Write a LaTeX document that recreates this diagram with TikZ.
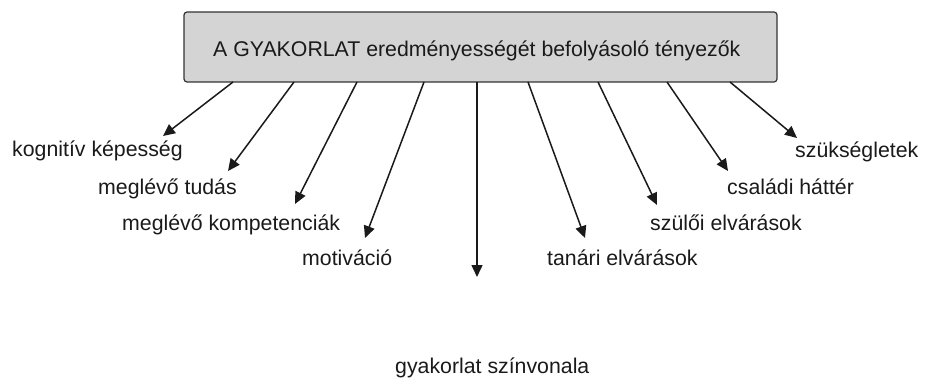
\documentclass[tikz,border=0pt]{standalone}
\usepackage{fontspec}
\setmainfont{Liberation Sans}
\usetikzlibrary{arrows.meta}
\definecolor{boxfill}{HTML}{D4D4D4}
\definecolor{boxline}{HTML}{333333}
\definecolor{ink}{HTML}{1A1A1A}
\tikzset{
  every node/.style={font=\fontsize{21.3}{25}\selectfont, text=ink},
  titlebox/.style={draw=boxline, line width=1.2pt, fill=boxfill, rounded corners=3pt,
    minimum width=593pt, minimum height=70pt, inner sep=0pt},
  lbl/.style={anchor=base west, inner sep=0pt},
  factor/.style={draw=ink, line width=1.5pt, -{Triangle[length=12pt,width=11pt]}}
}
\begin{document}
\begin{tikzpicture}[x=1pt,y=-1pt]
\useasboundingbox (0,0) rectangle (925,379);
\node[titlebox] (box) at (480.5,47) {};
\node[lbl] (title) at (213,57) {A GYAKORLAT eredményességét befolyásoló tényezők};
% start points on box bottom
\coordinate (s1) at (233,82);
\coordinate (s2) at (294,82);
\coordinate (s3) at (357,82);
\coordinate (s4) at (424,82);
\coordinate (s5) at (477,82);
\coordinate (s6) at (528,82);
\coordinate (s7) at (598,82);
\coordinate (s8) at (667,82);
\coordinate (s9) at (730,82);
% tips
\coordinate (t1) at (163,136);
\coordinate (t2) at (228,171);
\coordinate (t3) at (295,204);
\coordinate (t4) at (365,238);
\coordinate (t5) at (477,277);
\coordinate (t6) at (585,238);
\coordinate (t7) at (657,205);
\coordinate (t8) at (728,171);
\coordinate (t9) at (797,138);
% labels
\node[lbl] (l1) at (12,157) {kognitív képesség};
\node[lbl] (l2) at (98,195) {meglévő tudás};
\node[lbl] (l3) at (122,230) {meglévő kompetenciák};
\node[lbl] (l4) at (302,265) {motiváció};
\node[lbl] (l5) at (395,373) {gyakorlat színvonala};
\node[lbl] (l6) at (547,265) {tanári elvárások};
\node[lbl] (l7) at (650,230) {szülői elvárások};
\node[lbl] (l8) at (727,195) {családi háttér};
\node[lbl] (l9) at (795,158) {szükségletek};
% arrows
\foreach \i in {1,...,9} {\draw[factor] (s\i) -- (t\i);}
\end{tikzpicture}
\end{document}
